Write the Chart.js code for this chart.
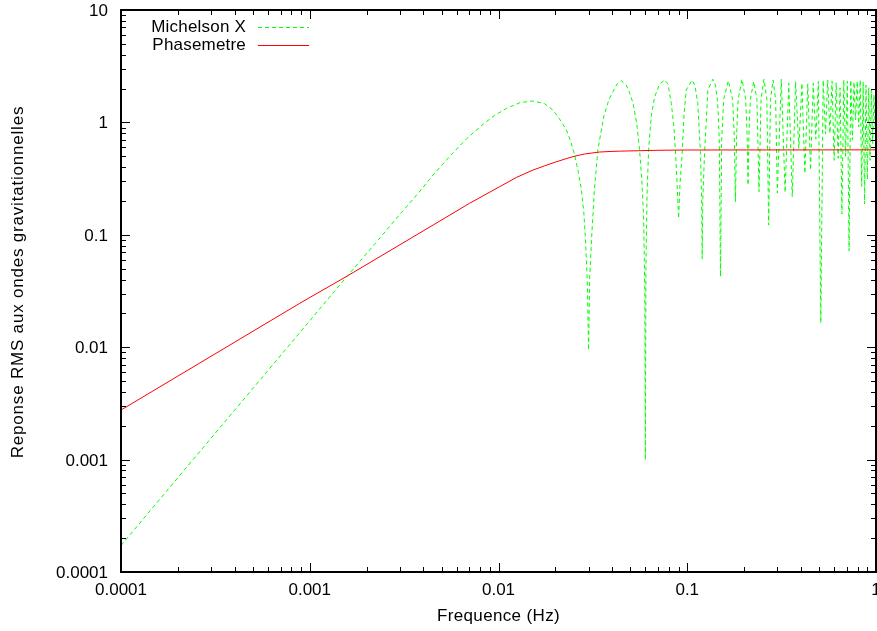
<!DOCTYPE html>
<html>
<head>
<meta charset="utf-8">
<title>Reponse RMS - Michelson X / Phasemetre</title>
<script src="https://cdn.jsdelivr.net/npm/chart.js@4.4.1/dist/chart.umd.min.js"></script>
<style>
  html, body { margin: 0; padding: 0; background: #fff; }
  canvas { display: block; }
</style>
</head>
<body>
<canvas id="chart-reponse" width="877" height="631"></canvas>
<script>
// =============================================
// Données
// =============================================

const freqMichelson = [
  0.0001, 0.0002, 0.0005, 0.001, 0.0016, 0.0022, 0.003, 0.0038, 0.0045, 0.00552,
  0.0068, 0.00828, 0.0095, 0.011, 0.013, 0.01524, 0.0175, 0.0194, 0.021, 0.0229,
  0.0242, 0.0253, 0.0265, 0.0275, 0.0283, 0.0289, 0.0296, 0.0300, 0.0304, 0.0311,
  0.0322, 0.0336, 0.0362, 0.0385, 0.0404, 0.0425, 0.0447, 0.0475, 0.0497, 0.0516,
  0.054, 0.0559, 0.0575, 0.0588, 0.0596, 0.0600, 0.0604, 0.0612, 0.0624, 0.0645,
  0.0672, 0.0715, 0.0759, 0.079, 0.0823, 0.0848, 0.0867, 0.0885, 0.0900, 0.0915,
  0.094, 0.0962, 0.0988, 0.106, 0.110, 0.1137, 0.1175, 0.1192, 0.120, 0.1208,
  0.1235, 0.1286, 0.1366, 0.141, 0.145, 0.1478, 0.150, 0.1522, 0.156, 0.165,
  0.174, 0.1775, 0.180, 0.1825, 0.186, 0.195, 0.204, 0.2075, 0.210, 0.2125,
  0.216, 0.225, 0.234, 0.240, 0.246, 0.255, 0.264, 0.270, 0.276, 0.285,
  0.294, 0.300, 0.315, 0.330, 0.345, 0.360, 0.375, 0.390, 0.405, 0.420,
  0.435, 0.450, 0.465, 0.480, 0.495, 0.510, 0.525, 0.540, 0.555, 0.570,
  0.585, 0.600, 0.615, 0.630, 0.645, 0.660, 0.675, 0.690, 0.705, 0.720,
  0.735, 0.750, 0.765, 0.780, 0.795, 0.810, 0.825, 0.840, 0.855, 0.870,
  0.885, 0.900, 0.915, 0.930, 0.945, 0.960, 0.975, 0.990, 1.0
];
const respMichelson = [
  0.000172, 0.00069, 0.0043, 0.0172, 0.044, 0.082, 0.152, 0.24, 0.34, 0.50,
  0.72, 0.96, 1.15, 1.33, 1.50, 1.55, 1.47, 1.29, 1.08, 0.856,
  0.67, 0.513, 0.36, 0.25, 0.16, 0.09, 0.035, 0.0094, 0.04, 0.09,
  0.25, 0.568, 1.15, 1.6, 1.87, 2.2, 2.35, 2.15, 1.8, 1.48,
  0.98, 0.568, 0.3, 0.135, 0.03, 0.00099, 0.05, 0.22, 0.568, 1.15,
  1.69, 2.2, 2.38, 2.2, 1.48, 0.95, 0.531, 0.27, 0.140, 0.28,
  0.53, 1.2, 1.94, 2.38, 2.1, 1.48, 0.53, 0.2, 0.061, 0.2,
  0.53, 1.94, 2.42, 2.15, 1.5, 0.7, 0.0424, 0.7, 1.6, 2.35,
  1.6, 0.75, 0.197, 0.75, 1.6, 2.42, 1.6, 0.8, 0.277, 0.8,
  1.6, 2.31, 1.6, 0.242, 1.6, 2.42, 1.6, 0.122, 1.6, 2.38,
  1.6, 0.236, 2.42, 0.238, 2.23, 0.218, 2.31, 0.588, 2.23, 0.352,
  2.2, 0.377, 2.23, 0.71, 2.31, 0.0164, 2.38, 0.79, 2.38, 0.80,
  2.33, 0.46, 2.26, 0.48, 2.03, 0.153, 2.38, 0.50, 2.33, 0.072,
  2.38, 0.70, 2.29, 1.05, 2.33, 0.91, 2.38, 0.27, 2.29, 0.188,
  2.15, 0.31, 2.03, 0.46, 1.94, 0.65, 1.75, 0.91, 1.3
];

const freqPhase = [
  0.0001, 0.000886, 0.0016, 0.0045, 0.007, 0.01015, 0.0125, 0.01524, 0.0175, 0.02,
  0.0225, 0.0248, 0.0285, 0.0343, 0.04, 0.0439, 0.055, 0.07, 0.1, 1.0
];
const respPhase = [
  0.00276, 0.0246, 0.0435, 0.122, 0.19, 0.268, 0.325, 0.377, 0.41, 0.443,
  0.472, 0.496, 0.523, 0.545, 0.552, 0.555, 0.56, 0.565, 0.568, 0.57
];

const xTicks = [0.0001, 0.001, 0.01, 0.1, 1];
const xTickLabels = ['0.0001', '0.001', '0.01', '0.1', '1'];
const yTicks = [0.0001, 0.001, 0.01, 0.1, 1, 10];
const yTickLabels = ['0.0001', '0.001', '0.01', '0.1', '1', '10'];

const xTitle = 'Frequence (Hz)';
const yTitle = 'Reponse RMS aux ondes gravitationnelles';

const FONT = '17px "Liberation Sans", Arial, Helvetica, sans-serif';

// =============================================
// Cadre, graduations et légende façon gnuplot
// =============================================

const gnuplotFrame = {
  id: 'gnuplotFrame',
  afterDraw(chart) {
    const { ctx, chartArea: a, scales: { x, y } } = chart;
    ctx.save();

    // graduations vers l'intérieur, sur les 4 côtés
    ctx.strokeStyle = '#000';
    ctx.lineWidth = 1;
    ctx.beginPath();
    const minorVals = (lo, hi) => {
      const out = [];
      for (let d = lo; d < hi * 0.99; d *= 10) {
        for (let m = 2; m <= 9; m++) out.push(d * m);
      }
      return out;
    };
    const tickX = (v, len) => {
      const px = Math.round(x.getPixelForValue(v)) + 0.5;
      ctx.moveTo(px, a.bottom); ctx.lineTo(px, a.bottom - len);
      ctx.moveTo(px, a.top); ctx.lineTo(px, a.top + len);
    };
    const tickY = (v, len) => {
      const py = Math.round(y.getPixelForValue(v)) + 0.5;
      ctx.moveTo(a.left, py); ctx.lineTo(a.left + len, py);
      ctx.moveTo(a.right, py); ctx.lineTo(a.right - len, py);
    };
    xTicks.forEach(v => tickX(v, 9));
    minorVals(xTicks[0], xTicks[xTicks.length - 1]).forEach(v => tickX(v, 5));
    yTicks.forEach(v => tickY(v, 9));
    minorVals(yTicks[0], yTicks[yTicks.length - 1]).forEach(v => tickY(v, 5));
    ctx.stroke();

    // bordure
    ctx.lineWidth = 2;
    ctx.strokeRect(a.left, a.top, a.right - a.left, a.bottom - a.top);

    // étiquettes
    ctx.fillStyle = '#000';
    ctx.font = FONT;
    ctx.textBaseline = 'alphabetic';
    ctx.textAlign = 'center';
    xTicks.forEach((v, i) => {
      ctx.fillText(xTickLabels[i], x.getPixelForValue(v), a.bottom + 23);
    });
    ctx.textAlign = 'right';
    yTicks.forEach((v, i) => {
      ctx.fillText(yTickLabels[i], a.left - 13, y.getPixelForValue(v) + 6);
    });

    // titres des axes
    ctx.textAlign = 'center';
    ctx.letterSpacing = '0.35px';
    ctx.fillText(xTitle, (a.left + a.right) / 2, 621);
    ctx.save();
    ctx.letterSpacing = '0.8px';
    ctx.translate(23, 282);
    ctx.rotate(-Math.PI / 2);
    ctx.fillText(yTitle, 0, 0);
    ctx.restore();

    // légende
    ctx.letterSpacing = '0.2px';
    chart.data.datasets.forEach((ds, i) => {
      const ly = 27 + i * 18;
      ctx.textAlign = 'right';
      ctx.fillStyle = '#000';
      ctx.fillText(ds.label, 246, ly + 5);
      ctx.strokeStyle = ds.borderColor;
      ctx.lineWidth = 1;
      ctx.setLineDash(ds.borderDash || []);
      ctx.beginPath();
      ctx.moveTo(258, ly + 0.5);
      ctx.lineTo(309, ly + 0.5);
      ctx.stroke();
      ctx.setLineDash([]);
    });

    ctx.restore();
  }
};

// =============================================
// Graphique
// =============================================

const michelsonPts = freqMichelson.map((f, i) => ({ x: f, y: respMichelson[i] }));
const phasePts = freqPhase.map((f, i) => ({ x: f, y: respPhase[i] }));

new Chart(document.getElementById('chart-reponse'), {
  type: 'line',
  data: {
    datasets: [
      {
        label: 'Michelson X',
        data: michelsonPts,
        borderColor: '#00ff00',
        borderDash: [4, 3],
        borderWidth: 1,
        order: 1,
      },
      {
        label: 'Phasemetre',
        data: phasePts,
        borderColor: '#ff0000',
        borderWidth: 1,
        order: 0,
      }
    ]
  },
  options: {
    responsive: false,
    animation: false,
    devicePixelRatio: 1,
    layout: { padding: { left: 121, right: 1, top: 10, bottom: 59 } },
    elements: {
      point: { radius: 0, hitRadius: 0 },
      line: { tension: 0, fill: false },
    },
    scales: {
      x: { type: 'logarithmic', min: 0.0001, max: 1, display: false },
      y: { type: 'logarithmic', min: 0.0001, max: 10, display: false },
    },
    plugins: {
      legend: { display: false },
      tooltip: { enabled: false },
    },
  },
  plugins: [gnuplotFrame],
});
</script>
</body>
</html>
